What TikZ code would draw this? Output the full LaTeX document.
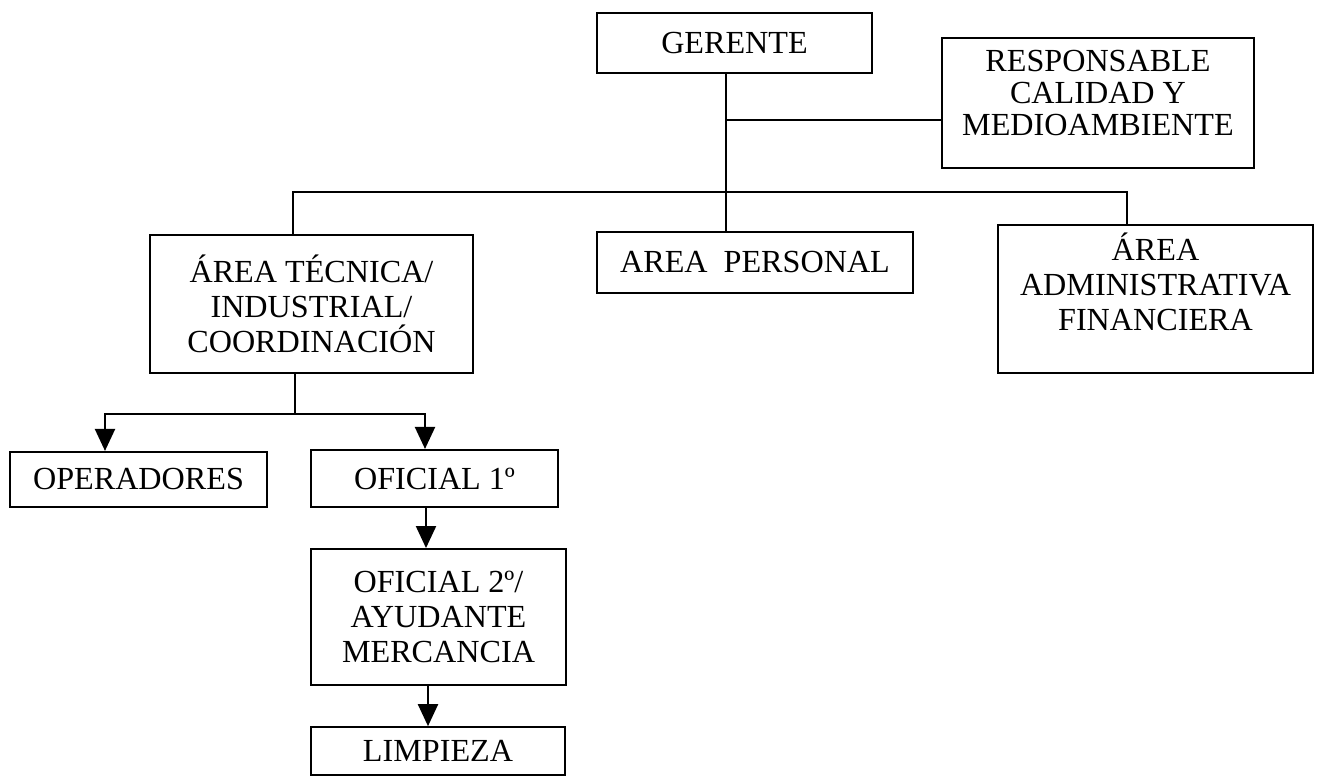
\documentclass[tikz,border=0pt]{standalone}
\usepackage{fontspec}
\setmainfont{Liberation Serif}
\usepackage{tikz}
\usetikzlibrary{positioning,arrows.meta}

\begin{document}
\begin{tikzpicture}[
  line width=1.2pt,
  cargo/.style={draw,rectangle,align=center,inner sep=2pt,
    font=\fontsize{18.3}{20}\selectfont},
  flecha/.style={-{Triangle[length=0.44cm,width=0.4cm]}}
    ]
\useasboundingbox (0,0) rectangle (26.4,-15.54);

\node[cargo,minimum width=5.5cm,minimum height=1.2cm] (ger) at (14.69,-0.86) {GERENTE};
\node[cargo,minimum width=6.24cm,minimum height=2.6cm,text depth=0.4cm,
  font=\fontsize{18.3}{18.2}\selectfont] (resp) at (21.96,-2.06) {RESPONSABLE\\CALIDAD Y\\MEDIOAMBIENTE};
\node[cargo,minimum width=6.46cm,minimum height=2.76cm] (tec) at (6.23,-6.08) {ÁREA TÉCNICA/\\INDUSTRIAL/\\COORDINACIÓN};
\node[cargo,minimum width=6.32cm,minimum height=1.22cm] (pers) at (15.1,-5.25) {AREA\ \ PERSONAL};
\node[cargo,minimum width=6.3cm,minimum height=2.96cm,text depth=0.7cm] (adm) at (23.11,-5.98) {ÁREA\\ADMINISTRATIVA\\FINANCIERA};
\node[cargo,minimum width=5.14cm,minimum height=1.1cm] (oper) at (2.77,-9.59) {OPERADORES};
\node[cargo,minimum width=4.94cm,minimum height=1.14cm] (of1) at (8.69,-9.57) {OFICIAL 1º};
\node[cargo,minimum width=5.1cm,minimum height=2.72cm,below right=0.8cm and 0cm of of1.south west] (of2) {OFICIAL 2º/\\AYUDANTE\\MERCANCIA};
\node[cargo,minimum width=5.08cm,minimum height=0.96cm,below right=0.8cm and 0cm of of2.south west] (limp) {LIMPIEZA};

% gerente hacia abajo
\coordinate (tronco) at ([xshift=-0.17cm]ger.south);
\draw (tronco) -- (tronco |- pers.north);
\coordinate (j1) at ([yshift=-0.34cm]resp.west);
\draw (j1) -- (j1 -| tronco);
% barra de areas
\draw ([xshift=-0.37cm]tec.north) -- ++(0,0.84) -| ([xshift=-0.57cm]adm.north);
% area tecnica
\coordinate (t1) at ([xshift=-0.33cm]tec.south);
\draw (t1) -- ++(0,-0.8) coordinate (t2);
\draw[flecha] (t2) -| ([xshift=-0.67cm]oper.north);
\draw[flecha] (t2) -| ([xshift=-0.19cm]of1.north);
\draw[flecha] ([xshift=-0.17cm]of1.south) -- ++(0,-0.8);
\draw[flecha] ([xshift=-0.21cm]of2.south) -- ++(0,-0.8);

\end{tikzpicture}
\end{document}
